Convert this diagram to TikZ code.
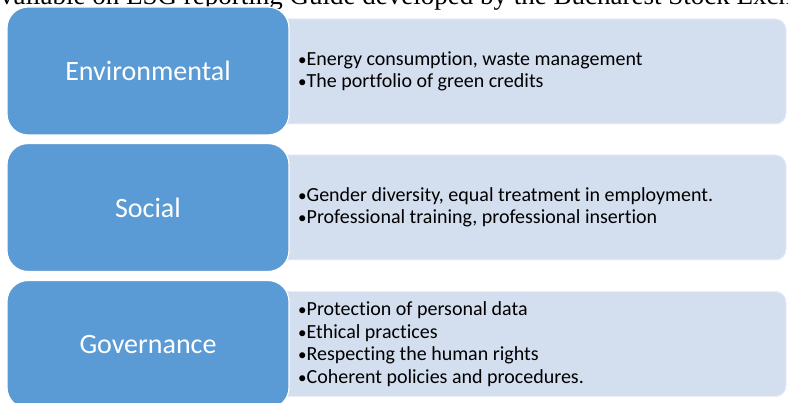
\documentclass[tikz,border=0pt]{standalone}
\usepackage{fontspec}
\setmainfont[Ligatures=NoCommon]{Carlito}
\newfontfamily\serifhead{Liberation Serif}
\definecolor{catblue}{HTML}{5B9BD5}
\definecolor{detailfill}{HTML}{D3DEEF}
\newcommand{\dotmark}{{\fontsize{17}{20}\selectfont•}}
\begin{document}
\begin{tikzpicture}[x=1pt,y=-1pt,
  catbox/.style={fill=catblue, draw=white, line width=1.2pt, rounded corners=21pt,
    minimum width=282pt, minimum height=128pt, inner sep=0pt, text=white,
    font=\fontsize{28}{34}\selectfont},
  detailbox/.style={fill=detailfill, draw=detailfill!50!white, line width=1pt,
    rounded corners=10.5pt, minimum width=516pt, minimum height=105pt, inner sep=0pt},
  bullets/.style={anchor=west, align=left, inner sep=0pt, text=black,
    font=\fontsize{20}{22.5}\selectfont}]
\useasboundingbox (0,0) rectangle (788,403);
\clip (0,0) rectangle (788,403);

% running text line of the page above the figure
\node[anchor=base west, inner sep=0pt, font=\serifhead\fontsize{27}{32}\selectfont]
  (caption) at (-12,4.5) {available on ESG reporting Guide developed by the Bucharest Stock Exchange};

% detail panels (behind the category boxes)
\node[detailbox] (envd) at (528,71.5) {};
\node[detailbox] (socd) at (528,207.5) {};
\node[detailbox] (govd) at (528,344) {};

% category boxes
\node[catbox] (env) at (148,71) {Environmental};
\node[catbox] (soc) at (148,207.5) {Social};
\node[catbox] (gov) at (148,344.5) {Governance};

% bullet lists
\node[bullets] (envl) at (298,71.5) {\dotmark Energy consumption, waste management\\\dotmark The portfolio of green credits};
\node[bullets] (socl) at (298,207.5) {\dotmark Gender diversity, equal treatment in employment.\\\dotmark Professional training, professional insertion};
\node[bullets] (govl) at (298,344) {\dotmark Protection of personal data\\\dotmark Ethical practices\\\dotmark Respecting the human rights\\\dotmark Coherent policies and procedures.};
\end{tikzpicture}
\end{document}
